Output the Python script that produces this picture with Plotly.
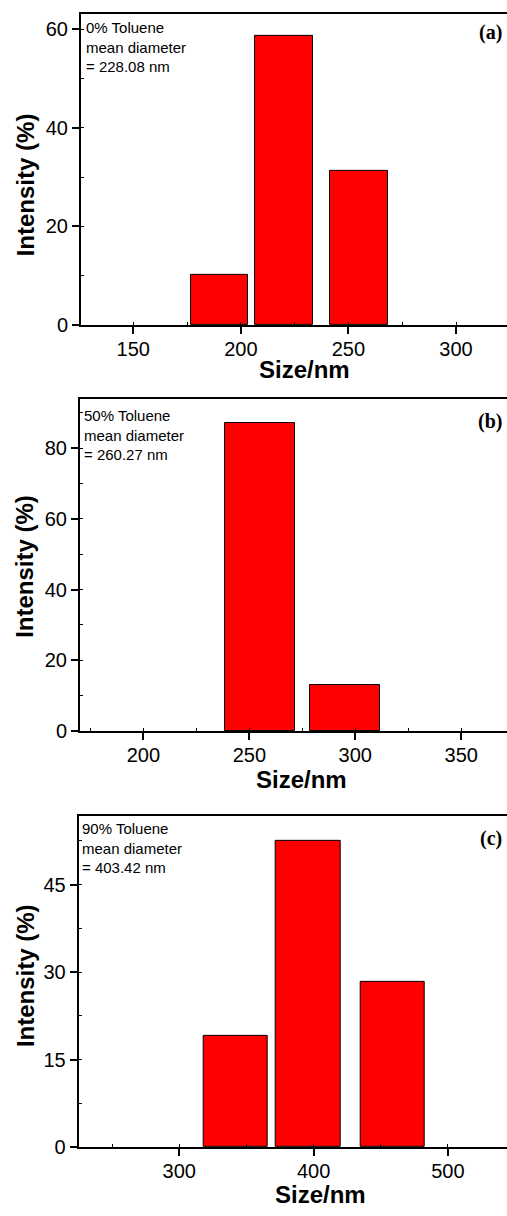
import plotly.graph_objects as go

# DLS intensity distributions (size bin centre in nm, intensity in %)
size_a = [190.1, 220.2, 255.0]
intensity_a = [10.1, 58.6, 31.3]
size_b = [255.0, 295.3]
intensity_b = [87.0, 13.0]
size_c = [342.0, 396.1, 458.7]
intensity_c = [19.1, 52.6, 28.3]

labels = ["(a)", "(b)", "(c)"]
notes = [
    "0% Toluene<br>mean diameter<br>= 228.08 nm",
    "50% Toluene<br>mean diameter<br>= 260.27 nm",
    "90% Toluene<br>mean diameter<br>= 403.42 nm",
]

W, H = 507, 1216


def px(x):
    return x / W


def py(y):
    return 1 - y / H


SANS = "Liberation Sans, Arial, sans-serif"
SERIF = "Liberation Serif, Times New Roman, serif"

panels = [
    dict(x=size_a, y=intensity_a, w=26.8, xr=[125.7, 323.7], yr=[0, 63.1],
         xd=50, yd=20, left=81, top=14, bottom=328,
         note_y=47, note_x=84, lab_y=33, ytitle_y=187, xtitle_x=304, xtitle_y=373),
    dict(x=size_b, y=intensity_b, w=33.0, xr=[170.1, 371.6], yr=[0, 93.9],
         xd=50, yd=20, left=80, top=402.7, bottom=737.7,
         note_y=439, note_x=82, lab_y=425, ytitle_y=572, xtitle_x=301, xtitle_y=787),
    dict(x=size_c, y=intensity_c, w=48.0, xr=[225.1, 544.0], yr=[0, 56.8],
         xd=100, yd=15, left=78.7, top=823.3, bottom=1157.7,
         note_y=855.7, note_x=80, lab_y=846, ytitle_y=985, xtitle_x=320, xtitle_y=1205),
]

fig = go.Figure()
layout = dict(
    width=W, height=H,
    margin=dict(l=0, r=0, t=0, b=0),
    paper_bgcolor="white", plot_bgcolor="white",
    showlegend=False,
    bargap=0,
)
annotations = []

for i, p in enumerate(panels):
    n = "" if i == 0 else str(i + 1)
    xa = "x" + n
    ya = "y" + n
    fig.add_trace(go.Bar(
        x=p["x"], y=p["y"], width=p["w"],
        marker=dict(color="#ff0000", line=dict(color="black", width=1)),
        xaxis=xa, yaxis=ya,
    ))
    layout["xaxis" + n] = dict(
        domain=[px(p["left"]), 1.0], anchor=ya, range=p["xr"],
        dtick=p["xd"], tick0=0, showgrid=False, zeroline=False,
        showline=True, linecolor="black", linewidth=2, mirror=True,
        ticks="outside", ticklen=7, tickwidth=1.5, tickcolor="black",
        ticklabelstandoff=-2,
        minor=dict(dtick=p["xd"] / 2, tick0=0, ticks="inside", ticklen=3,
                   tickwidth=1, tickcolor="black"),
        tickfont=dict(family=SANS, size=20, color="black"),
    )
    layout["yaxis" + n] = dict(
        domain=[py(p["bottom"]), py(p["top"])], anchor=xa, range=p["yr"],
        dtick=p["yd"], tick0=0, showgrid=False, zeroline=False,
        showline=True, linecolor="black", linewidth=2, mirror=False,
        ticks="outside", ticklen=7, tickwidth=1.5, tickcolor="black",
        minor=dict(dtick=p["yd"] / 2, tick0=0, ticks="inside", ticklen=3,
                   tickwidth=1, tickcolor="black"),
        tickfont=dict(family=SANS, size=20, color="black"),
    )
    annotations += [
        dict(text=notes[i], xref="paper", yref="paper",
             x=px(p["note_x"]), y=py(p["note_y"]), xanchor="left", yanchor="middle",
             align="left", showarrow=False,
             font=dict(family=SANS, size=15, color="black")),
        dict(text="<b>" + labels[i] + "</b>", xref="paper", yref="paper",
             x=px(504), y=py(p["lab_y"]), xanchor="right", yanchor="middle",
             showarrow=False, font=dict(family=SERIF, size=20, color="black")),
        dict(text="<b>Intensity (%)</b>", xref="paper", yref="paper",
             x=px(25), y=py(p["ytitle_y"]), xanchor="center", yanchor="middle",
             textangle=-90, showarrow=False,
             font=dict(family=SANS, size=24, color="black")),
        dict(text="<b>Size/nm</b>", xref="paper", yref="paper",
             x=px(p["xtitle_x"]), y=py(p["xtitle_y"]), xanchor="center", yanchor="middle",
             showarrow=False, font=dict(family=SANS, size=24, color="black")),
    ]

layout["annotations"] = annotations
fig.update_layout(**layout)
fig.write_html("out.html")
